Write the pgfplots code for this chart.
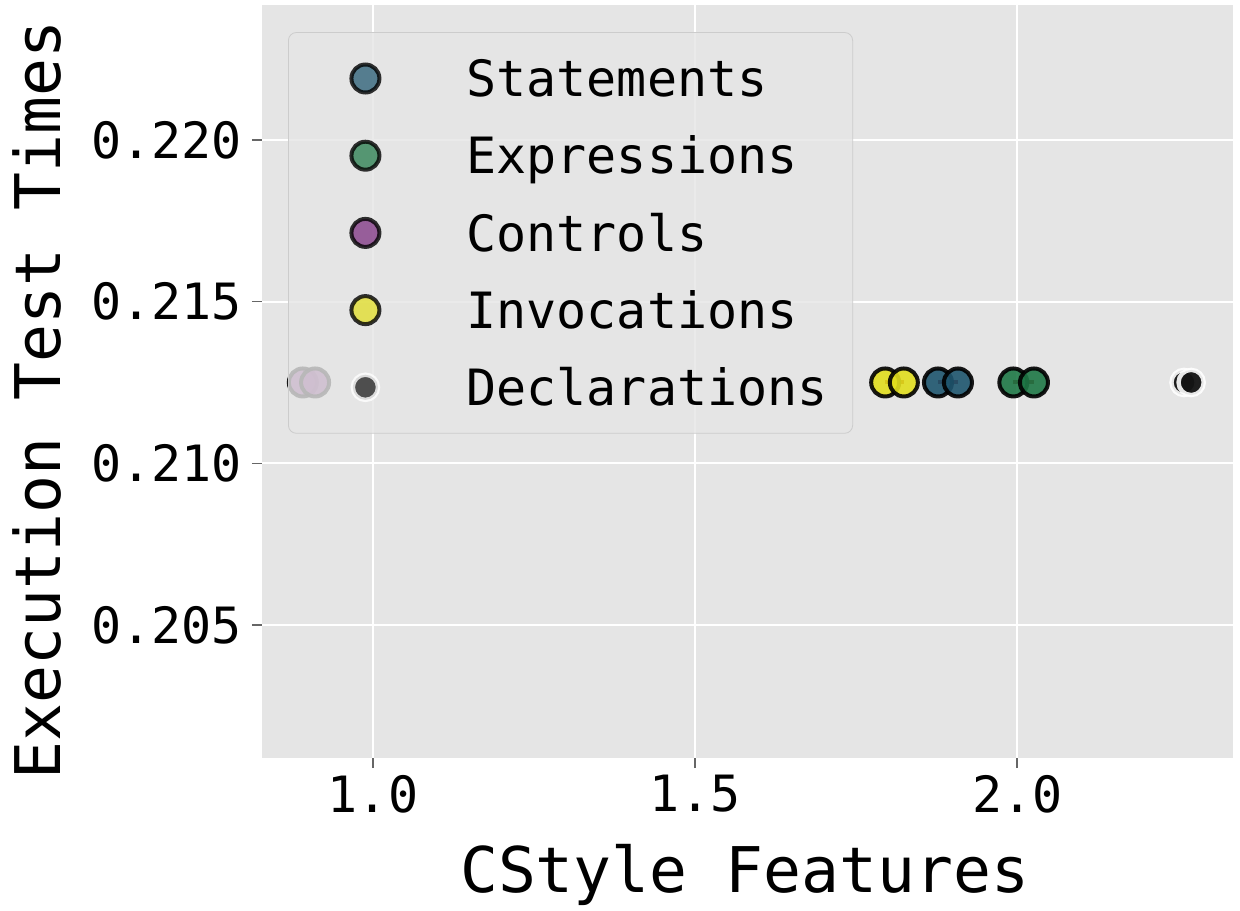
\documentclass[border=0pt]{standalone}
\usepackage{pgfplots}
\pgfplotsset{compat=1.18}
\usepackage{fontspec}
\setmainfont{DejaVu Sans Mono}
\definecolor{bg}{HTML}{E5E5E5}
\definecolor{cst}{HTML}{1E556E}
\definecolor{cex}{HTML}{1E7846}
\definecolor{cco}{HTML}{7A2A7E}
\definecolor{cin}{HTML}{E1DE1E}
\definecolor{cde}{HTML}{141414}
\definecolor{meanred}{HTML}{8B0000}
\begin{document}
\begin{tikzpicture}
\useasboundingbox (-131pt,-76pt) rectangle (489pt,379pt);
\begin{axis}[
  scale only axis, width=485.5pt, height=376.5pt,
  xmin=0.8276, xmax=2.335, ymin=0.20089, ymax=0.22417,
  axis background/.style={fill=bg},
  axis line style={draw=none},
  grid=major, major grid style={white, line width=1pt},
  tick align=outside, major tick length=5pt,
  xtick pos=bottom, ytick pos=left,
  tick style={color=black!60, line width=0.8pt},
  xtick={1.0,1.5,2.0}, ytick={0.205,0.210,0.215,0.220},
  scaled x ticks=false, scaled y ticks=false,
  xticklabel style={/pgf/number format/.cd, fixed, fixed zerofill, precision=1},
  yticklabel style={xshift=-1.5pt, /pgf/number format/.cd, fixed, fixed zerofill, precision=3},
  /pgf/number format/assume math mode=true,
  tick label style={font=\fontsize{25}{30}\selectfont},
  xlabel={CStyle Features}, ylabel={Execution Test Times},
  label style={font=\fontsize{31.5}{38}\selectfont},
  xlabel style={at={(axis description cs:0.497,-0.178)}, anchor=base},
  ylabel style={at={(axis description cs:-0.208,0.4754)}, anchor=base},
  legend style={
    at={(axis description cs:0.0268,0.964)}, anchor=north west,
    draw=black!20, fill=bg, fill opacity=0.8, text opacity=1, draw opacity=1,
    rounded corners=4pt,
    font=\fontsize{25}{30}\selectfont,
    inner xsep=12.5pt, inner ysep=10.5pt,
    row sep=13.6pt,
    nodes={inner sep=0pt, text height=21.6pt, text depth=3.4pt},
    cells={anchor=west},
    /tikz/every odd column/.append style={column sep=24.5pt},
  },
  legend image code/.code={\path[draw=none,fill=none] (0pt,0pt) -- (52pt,0pt); \draw[#1, fill opacity=0.72, draw opacity=0.8] plot[only marks] coordinates {(26pt,0pt)};},
]
\addplot[only marks, mark=*, mark size=7pt, line width=2pt, draw=black, fill=cst, fill opacity=0.9, draw opacity=0.9]
  coordinates {(1.877,0.2125)(1.908,0.2125)};
\addlegendentry{Statements}
\addplot[only marks, mark=*, mark size=7pt, line width=2pt, draw=black, fill=cex, fill opacity=0.9, draw opacity=0.9]
  coordinates {(1.994,0.2125)(2.026,0.2125)};
\addlegendentry{Expressions}
\addplot[only marks, mark=*, mark size=7pt, line width=2pt, draw=black, fill=cco, fill opacity=0.9, draw opacity=0.9]
  coordinates {(0.891,0.2125)(0.910,0.2125)};
\addlegendentry{Controls}
\addplot[only marks, mark=*, mark size=7pt, line width=2pt, draw=black, fill=cin, fill opacity=0.9, draw opacity=0.9]
  coordinates {(1.795,0.2125)(1.824,0.2125)};
\addlegendentry{Invocations}
\addplot[only marks, mark=*, mark size=6.3pt, line width=2.2pt, draw=white, fill=cde, fill opacity=0.95, draw opacity=0.9]
  coordinates {(2.259,0.2125)(2.270,0.2125)};
\addlegendentry{Declarations}
% range dashes
\addplot[forget plot, meanred, line width=2pt] coordinates {(1.877,0.2125)(1.908,0.2125)};
\addplot[forget plot, meanred, line width=2pt] coordinates {(1.994,0.2125)(2.026,0.2125)};
\addplot[forget plot, white, line width=2.2pt] coordinates {(0.891,0.2125)(0.910,0.2125)};
\addplot[forget plot, meanred, line width=2pt] coordinates {(1.795,0.2125)(1.824,0.2125)};
\addplot[forget plot, meanred, line width=2pt] coordinates {(2.259,0.2125)(2.270,0.2125)};
\end{axis}
\end{tikzpicture}
\end{document}
